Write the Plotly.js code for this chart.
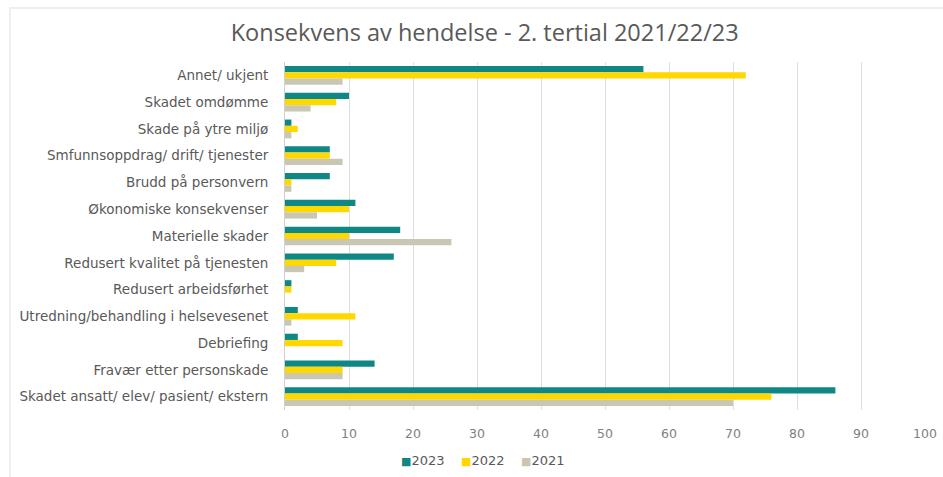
<!DOCTYPE html>
<html>
<head>
<meta charset="utf-8">
<script src="https://cdn.plot.ly/plotly-3.0.1.min.js"></script>
<style>
html,body{margin:0;padding:0;background:#fff;overflow:hidden;}
#frame{position:absolute;left:9px;top:7px;width:960px;height:500px;border-left:2px solid #efefef;border-top:2px solid #efefef;}
#chart{position:absolute;left:0;top:0;width:943px;height:477px;}
</style>
</head>
<body>
<div id="frame"></div>
<div id="chart"></div>
<script>
const categories = [
  "Annet/ ukjent",
  "Skadet omdømme",
  "Skade på ytre miljø",
  "Smfunnsoppdrag/ drift/ tjenester",
  "Brudd på personvern",
  "Økonomiske konsekvenser",
  "Materielle skader",
  "Redusert kvalitet på tjenesten",
  "Redusert arbeidsførhet",
  "Utredning/behandling i helsevesenet",
  "Debriefing",
  "Fravær etter personskade",
  "Skadet ansatt/ elev/ pasient/ ekstern"
];
const seriesNames = ["2023", "2022", "2021"];
const values2023 = [56, 10, 1, 7, 7, 11, 18, 17, 1, 2, 2, 14, 86];
const values2022 = [72, 8, 2, 7, 1, 10, 10, 8, 1, 11, 9, 9, 76];
const values2021 = [9, 4, 1, 9, 1, 5, 26, 3, 0, 1, 0, 9, 70];
const xTicks = [0, 10, 20, 30, 40, 50, 60, 70, 80, 90, 100];
const colors = ["#0f8785", "#ffd800", "#c9c7b3"];

const font = "DejaVu Sans, Verdana, sans-serif";
const allValues = [values2023, values2022, values2021];
const data = seriesNames.map((name, i) => ({
  type: "bar", orientation: "h", name: name,
  y: categories, x: allValues[i],
  marker: {color: colors[i], line: {width: 0}},
  hoverinfo: "x+y"
}));

const legendText = seriesNames.map((n, i) =>
  "<span style='color:" + colors[i] + ";font-size:11px'>■</span>" + n).join("    ");

const layout = {
  width: 943, height: 477,
  paper_bgcolor: "rgba(0,0,0,0)", plot_bgcolor: "rgba(0,0,0,0)",
  margin: {l: 285, r: 18, t: 62, b: 67},
  barmode: "group", bargap: 0.3, bargroupgap: 0,
  title: {text: "Konsekvens av hendelse - 2. tertial 2021/22/23", x: 0.514, xanchor: "center", y: 0.932, yanchor: "middle",
          font: {family: "Open Sans, sans-serif", size: 23.5, color: "#595959"}},
  xaxis: {range: [0, 100], tickvals: xTicks, ticktext: xTicks.map(String),
          showgrid: true, gridcolor: "#dedede", gridwidth: 1, zeroline: false,
          showline: false, ticks: "", ticklabelstandoff: 14,
          tickfont: {family: font, size: 12.5, color: "#7f7f7f"}, fixedrange: true},
  yaxis: {type: "category", categoryorder: "array", categoryarray: categories,
          autorange: "reversed", showgrid: false, zeroline: false,
          showline: true, linecolor: "#d0d0d0", linewidth: 1, ticks: "",
          ticklabelstandoff: 13,
          tickfont: {family: font, size: 13.5, color: "#595959"}, fixedrange: true},
  showlegend: false,
  annotations: [{
    text: legendText, xref: "paper", yref: "paper",
    x: 0.31, xanchor: "center", y: -0.145, yanchor: "middle", showarrow: false,
    font: {family: font, size: 13, color: "#595959"}
  }]
};
Plotly.newPlot("chart", data, layout, {displayModeBar: false, staticPlot: true});
</script>
</body>
</html>
